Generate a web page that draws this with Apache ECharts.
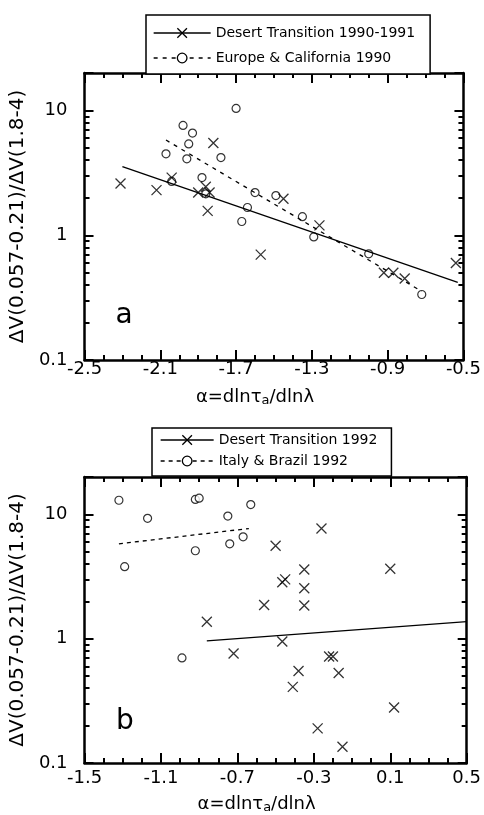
<!DOCTYPE html>
<html>
<head>
<meta charset="utf-8">
<script src="https://cdn.jsdelivr.net/npm/echarts@6/dist/echarts.min.js"></script>
<style>
  html, body { margin: 0; padding: 0; background: #fff; }
  #chart { width: 484px; height: 815px; }
</style>
</head>
<body>
<div id="chart"></div>
<script>
// ---- Panel (a): alpha vs. visibility-difference ratio, 1990-1991 ----
const desertA = [
  [-2.31, 2.6], [-2.12, 2.3], [-2.04, 2.9], [-1.90, 2.2], [-1.86, 2.45],
  [-1.84, 2.2], [-1.85, 1.57], [-1.82, 5.5], [-1.57, 0.70], [-1.45, 1.96],
  [-1.26, 1.20], [-0.92, 0.50], [-0.87, 0.50], [-0.81, 0.45], [-0.54, 0.60]
];
const europeA = [
  [-1.70, 10.4], [-1.98, 7.6], [-1.93, 6.6], [-1.95, 5.4], [-2.07, 4.5],
  [-1.96, 4.1], [-1.78, 4.2], [-1.88, 2.9], [-2.04, 2.7], [-1.86, 2.15],
  [-1.60, 2.2], [-1.49, 2.08], [-1.64, 1.67], [-1.67, 1.29], [-1.35, 1.41],
  [-1.29, 0.97], [-1.00, 0.71], [-0.72, 0.335]
];
const desertFitA = [[-2.30, 3.55], [-0.53, 0.42]];
const europeFitA = [[-2.07, 5.8], [-0.72, 0.355]];

// ---- Panel (b): 1992 ----
const desertB = [
  [-0.86, 1.37], [-0.72, 0.76], [-0.56, 1.87], [-0.50, 5.6], [-0.465, 0.95],
  [-0.465, 2.85], [-0.45, 3.0], [-0.41, 0.41], [-0.38, 0.55], [-0.35, 3.6],
  [-0.35, 2.55], [-0.35, 1.85], [-0.28, 0.19], [-0.26, 7.7], [-0.22, 0.72],
  [-0.20, 0.72], [-0.17, 0.53], [-0.15, 0.135], [0.10, 3.65], [0.12, 0.28]
];
const italyB = [
  [-1.32, 13.0], [-1.17, 9.3], [-1.29, 3.8], [-0.92, 13.2], [-0.90, 13.5],
  [-0.92, 5.1], [-0.75, 9.7], [-0.74, 5.8], [-0.67, 6.6], [-0.63, 12.0],
  [-0.99, 0.70]
];
const desertFitB = [[-0.86, 0.96], [0.50, 1.37]];
const italyFitB = [[-1.32, 5.8], [-0.64, 7.7]];

// ---- Series names (legend entries) ----
const namesA = ['Desert Transition 1990-1991', 'Europe & California 1990'];
const namesB = ['Desert Transition 1992', 'Italy & Brazil 1992'];

// ---- Axis ticks ----
const xMajorA = [-2.5, -2.1, -1.7, -1.3, -0.9, -0.5];
const xMajorB = [-1.5, -1.1, -0.7, -0.3, 0.1, 0.5];
const yMajor = [0.1, 1, 10];
const yTickLabels = ['0.1', '1', '10'];
const yMinor = [0.2, 0.3, 0.4, 0.5, 0.6, 0.7, 0.8, 0.9, 2, 3, 4, 5, 6, 7, 8, 9];
const yMin = 0.1, yMax = 20;
const yTitle = 'ΔV(0.057-0.21)/ΔV(1.8-4)';

const FONT = 'DejaVu Sans';
const INK = '#000';
const CLEAR = 'rgba(0,0,0,0)';
const CROSS = 'path://M0,0L10,10M10,0L0,10';

function tenths(lo, hi) {
  const out = [];
  for (let k = Math.round(lo * 10); k <= Math.round(hi * 10); k++) out.push(k / 10);
  return out;
}

const frameLine = { show: true, onZero: false, lineStyle: { color: INK, width: 2.5 } };
const noLine = { show: false, onZero: false };
const majorTick = values => ({ show: true, inside: true, length: 10, customValues: values, lineStyle: { color: INK, width: 2 } });
const minorTick = values => ({ show: true, inside: true, length: 5, customValues: values, lineStyle: { color: INK, width: 2 } });

function yLabel(v) {
  const i = yMajor.findIndex(t => Math.abs(Math.log10(t) - Math.log10(v)) < 1e-6);
  return i < 0 ? '' : yTickLabels[i];
}

// x title with a subscript; the overlay copy is laid out identically but left invisible
function xTitle(gap, color) {
  return {
    name: '{m|α=dlnτ}{s|a}{m|/dlnλ}',
    nameLocation: 'middle',
    nameGap: gap,
    nameTextStyle: {
      color,
      padding: [0, 38, 0, 0],
      rich: {
        m: { fontSize: 18, fontFamily: FONT, color, verticalAlign: 'top', lineHeight: 19 },
        s: { fontSize: 13, fontFamily: FONT, color, verticalAlign: 'bottom', lineHeight: 19 }
      }
    }
  };
}

function xLabels(major, margin, color) {
  return { show: true, customValues: major, margin, formatter: v => v.toFixed(1), color, fontSize: 18, fontFamily: FONT };
}

// main grid: frame + long ticks + visible text; overlay grid: short ticks, same (invisible) text
function xAxesFor(gMain, gMinor, major, labelMargin, nameGap) {
  const min = major[0], max = major[major.length - 1];
  const minor = tenths(min, max);
  const base = { type: 'value', min, max, splitLine: { show: false } };
  return [
    Object.assign({}, base, xTitle(nameGap, INK), {
      gridIndex: gMain, position: 'bottom', axisLine: frameLine, axisTick: majorTick(major),
      axisLabel: xLabels(major, labelMargin, INK)
    }),
    Object.assign({}, base, {
      gridIndex: gMain, position: 'top', axisLine: frameLine, axisTick: majorTick(major), axisLabel: { show: false }
    }),
    Object.assign({}, base, xTitle(nameGap, CLEAR), {
      gridIndex: gMinor, position: 'bottom', axisLine: noLine, axisTick: minorTick(minor),
      axisLabel: xLabels(major, labelMargin, CLEAR)
    }),
    Object.assign({}, base, {
      gridIndex: gMinor, position: 'top', axisLine: noLine, axisTick: minorTick(minor), axisLabel: { show: false }
    })
  ];
}

function yAxesFor(gMain, gMinor) {
  const logBase = { type: 'log', logBase: 10, min: yMin, max: yMax, splitLine: { show: false }, minorTick: { show: false } };
  const lin = { type: 'value', min: Math.log10(yMin), max: Math.log10(yMax), splitLine: { show: false } };
  const minorLog = yMinor.map(v => Math.log10(v));
  const yName = color => ({
    name: yTitle, nameLocation: 'middle', nameRotate: 90, nameGap: 44,
    nameTextStyle: { fontSize: 20, fontFamily: FONT, color }
  });
  const tickFont = color => ({ color, fontSize: 18, fontFamily: FONT, margin: 17 });
  return [
    Object.assign({}, logBase, yName(INK), {
      gridIndex: gMain, position: 'left', axisLine: frameLine,
      axisTick: { show: true, inside: true, length: 9, lineStyle: { color: INK, width: 2 } },
      axisLabel: Object.assign({ show: true, formatter: yLabel }, tickFont(INK))
    }),
    Object.assign({}, logBase, {
      gridIndex: gMain, position: 'right', axisLine: frameLine,
      axisTick: { show: true, inside: true, length: 9, lineStyle: { color: INK, width: 2 } },
      axisLabel: { show: false }
    }),
    Object.assign({}, lin, yName(CLEAR), {
      gridIndex: gMinor, position: 'left', axisLine: noLine, axisTick: minorTick(minorLog),
      axisLabel: Object.assign({ show: true, customValues: yMajor.map(v => Math.log10(v)), formatter: v => yLabel(Math.pow(10, v)) }, tickFont(CLEAR))
    }),
    Object.assign({}, lin, {
      gridIndex: gMinor, position: 'right', axisLine: noLine, axisTick: minorTick(minorLog), axisLabel: { show: false }
    })
  ];
}

const crossStyle = { color: CLEAR, borderColor: INK, borderWidth: 1.3 };
const circleStyle = { color: '#fff', borderColor: INK, borderWidth: 1.2 };

function panelSeries(axisIdx, names, crosses, circles, crossFit, circleFit, dash) {
  const common = { xAxisIndex: axisIdx, yAxisIndex: axisIdx, silent: true, emphasis: { disabled: true } };
  return [
    Object.assign({}, common, {
      type: 'line', name: names[0], data: crossFit, symbol: CROSS, symbolSize: 10, showSymbol: false,
      lineStyle: { color: INK, width: 1.3, type: 'solid' }, itemStyle: crossStyle
    }),
    Object.assign({}, common, {
      type: 'line', name: names[1], data: circleFit, symbol: 'circle', symbolSize: 8, showSymbol: false,
      lineStyle: { color: INK, width: 1.3, type: dash }, itemStyle: circleStyle
    }),
    Object.assign({}, common, {
      type: 'scatter', name: names[1] + ' (obs)', data: circles, symbol: 'circle', symbolSize: 8, itemStyle: circleStyle
    }),
    Object.assign({}, common, {
      type: 'scatter', name: names[0] + ' (obs)', data: crosses, symbol: CROSS, symbolSize: 10, itemStyle: crossStyle
    })
  ];
}

function legendFor(names, left, top, padding, itemWidth, itemGap) {
  return {
    data: names, orient: 'vertical', left, top, padding, itemWidth, itemHeight: 12, itemGap,
    borderColor: INK, borderWidth: 1.5, backgroundColor: '#fff', selectedMode: false,
    textStyle: { color: INK, fontSize: 14, fontFamily: FONT },
    itemStyle: { borderWidth: 1.3 }, lineStyle: { width: 1.3 }
  };
}

function panelLetter(text, x, y) {
  return {
    type: 'text', x, y,
    style: { text, font: '28px "DejaVu Sans"', fill: INK, textAlign: 'center', textVerticalAlign: 'middle', align: 'center', verticalAlign: 'middle' }
  };
}

const gridA = { left: 80, top: 73, width: 388, height: 287 };
const gridB = { left: 80, top: 477, width: 387, height: 287 };

const option = {
  animation: false,
  backgroundColor: '#fff',
  grid: [gridA, Object.assign({}, gridA), gridB, Object.assign({}, gridB)],
  xAxis: [].concat(xAxesFor(0, 1, xMajorA, 0, 28), xAxesFor(2, 3, xMajorB, 6, 32)),
  yAxis: [].concat(yAxesFor(0, 1), yAxesFor(2, 3)),
  legend: [
    legendFor(namesA, 146, 15, [11, 15, 9, 7], 57, 11),
    legendFor(namesB, 152, 428, [5, 14, 8, 8], 53, 7)
  ],
  graphic: [panelLetter('a', 124, 316), panelLetter('b', 125, 722)],
  series: [].concat(
    panelSeries(0, namesA, desertA, europeA, desertFitA, europeFitA, [4, 5]),
    panelSeries(4, namesB, desertB, italyB, desertFitB, italyFitB, [4, 4])
  )
};

const chart = echarts.init(document.getElementById('chart'), null, { renderer: 'canvas' });
chart.setOption(option);
</script>
</body>
</html>
